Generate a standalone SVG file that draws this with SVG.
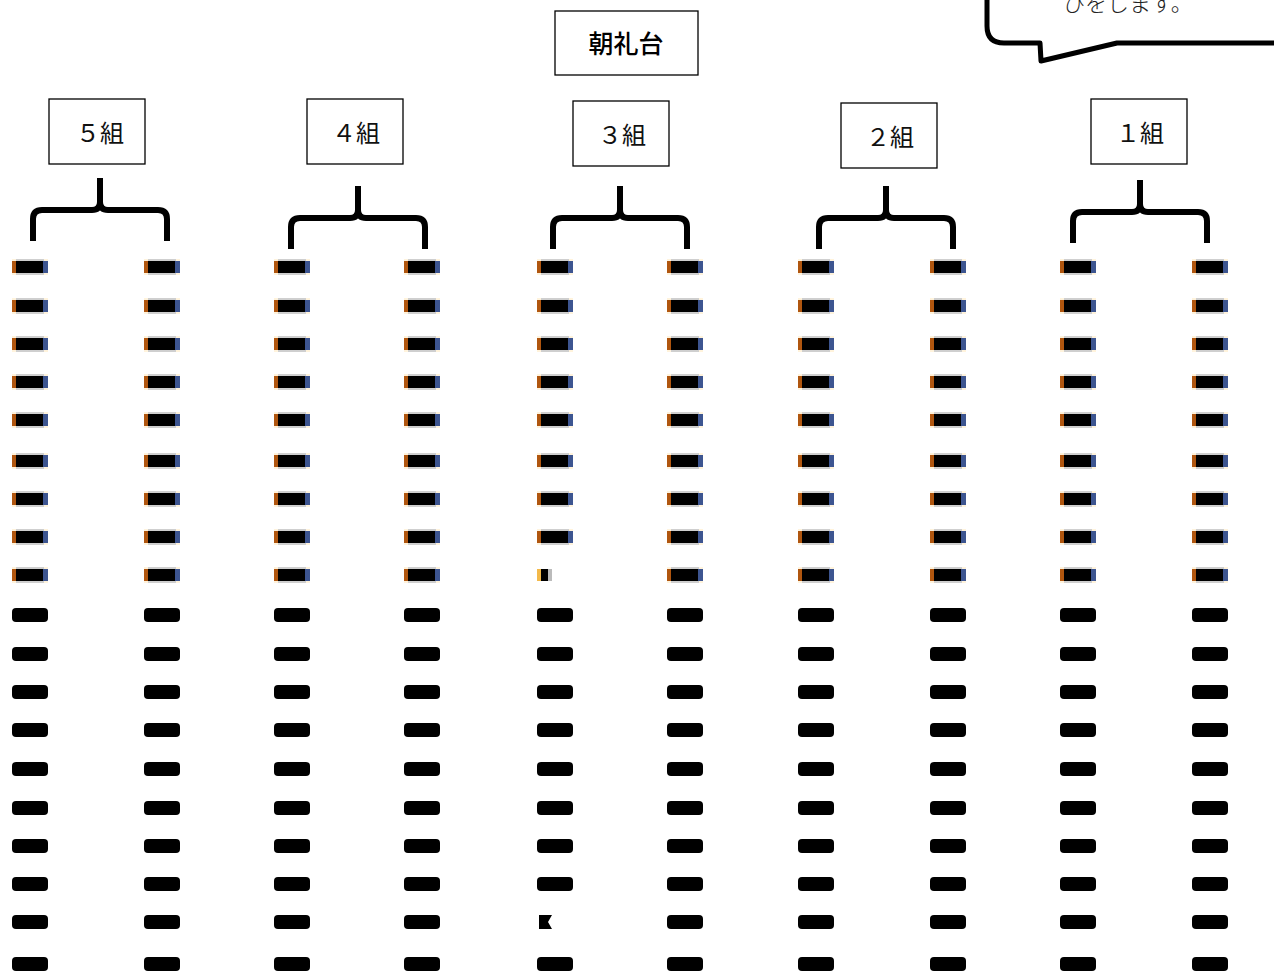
<svg xmlns="http://www.w3.org/2000/svg" xmlns:xlink="http://www.w3.org/1999/xlink" width="1274" height="978" viewBox="0 0 1274 978">
<style>
.box{fill:#fff;stroke:#000;stroke-width:1.3}
.brace{fill:none;stroke:#000;stroke-width:6;stroke-linejoin:round}
.lbl{font-family:"Liberation Serif","Noto Sans CJK JP",serif;font-size:24px;text-anchor:middle;fill:#111}
.stage{font-family:"Noto Sans CJK JP",sans-serif;font-size:25px;font-weight:500;text-anchor:middle;fill:#000}
.bub{fill:#fff;stroke:#000;stroke-width:5;stroke-linejoin:round}
.btxt{font-family:"Noto Sans CJK JP",sans-serif;font-size:22px;font-weight:300;fill:#222}
</style>
<defs>
<path id="br" class="brace" d="M0,0 V24 Q0,32 -8,32 H-58 Q-67,32 -67,41 V63 M0,24 Q0,32 8,32 H58 Q67,32 67,41 V63"/>
<g id="m">
<rect x="0" y="-8" width="36" height="16" fill="#fff3dc"/>
<rect x="0" y="-6" width="4" height="12" fill="#b0560f"/>
<rect x="4" y="-8" width="28" height="16" fill="#cfcfcf"/>
<rect x="4" y="-6" width="28" height="12" fill="#000"/>
<rect x="31" y="-6" width="5" height="12" fill="#3d5590"/>
</g>
<g id="n">
<rect x="0" y="-7" width="36" height="14" rx="4" fill="#000"/>
</g>
</defs>
<rect width="1274" height="978" fill="#fff"/>

<g id="bubble">
<path class="bub" d="M987,-10 V26 Q987,43 1004,43 H1040 L1041,61 L1117,43 H1285 V-10 Z"/>
<text class="btxt" x="1063" y="11">ひをします。</text>
</g>

<g id="stage">
<rect class="box" x="555" y="11" width="143" height="64"/>
<text class="stage" x="626" y="53">朝礼台</text>
</g>

<g id="class5">
<rect class="box" x="49" y="99" width="96" height="65"/>
<text class="lbl" x="100" y="142">５組</text>
<use xlink:href="#br" x="100" y="178"/>
</g>
<g id="class4">
<rect class="box" x="307" y="99" width="96" height="65"/>
<text class="lbl" x="356" y="142">４組</text>
<use xlink:href="#br" x="358" y="186"/>
</g>
<g id="class3">
<rect class="box" x="573" y="101" width="96" height="65"/>
<text class="lbl" x="622" y="144">３組</text>
<use xlink:href="#br" x="620" y="186"/>
</g>
<g id="class2">
<rect class="box" x="841" y="103" width="96" height="65"/>
<text class="lbl" x="890" y="146">２組</text>
<use xlink:href="#br" x="886" y="186"/>
</g>
<g id="class1">
<rect class="box" x="1091" y="99" width="96" height="65"/>
<text class="lbl" x="1140" y="142">１組</text>
<use xlink:href="#br" x="1140" y="180"/>
</g>

<g id="students">
<g id="col5L" transform="translate(12,0)">
<use href="#m" y="267"/><use href="#m" y="306"/><use href="#m" y="344"/><use href="#m" y="382"/><use href="#m" y="420"/><use href="#m" y="461"/><use href="#m" y="499"/><use href="#m" y="537"/><use href="#m" y="575"/>
<use href="#n" y="615"/><use href="#n" y="654"/><use href="#n" y="692"/><use href="#n" y="730"/><use href="#n" y="769"/><use href="#n" y="808"/><use href="#n" y="846"/><use href="#n" y="884"/><use href="#n" y="922"/><use href="#n" y="964"/>
</g>
<g id="col5R" transform="translate(144,0)">
<use href="#m" y="267"/><use href="#m" y="306"/><use href="#m" y="344"/><use href="#m" y="382"/><use href="#m" y="420"/><use href="#m" y="461"/><use href="#m" y="499"/><use href="#m" y="537"/><use href="#m" y="575"/>
<use href="#n" y="615"/><use href="#n" y="654"/><use href="#n" y="692"/><use href="#n" y="730"/><use href="#n" y="769"/><use href="#n" y="808"/><use href="#n" y="846"/><use href="#n" y="884"/><use href="#n" y="922"/><use href="#n" y="964"/>
</g>
<g id="col4L" transform="translate(274,0)">
<use href="#m" y="267"/><use href="#m" y="306"/><use href="#m" y="344"/><use href="#m" y="382"/><use href="#m" y="420"/><use href="#m" y="461"/><use href="#m" y="499"/><use href="#m" y="537"/><use href="#m" y="575"/>
<use href="#n" y="615"/><use href="#n" y="654"/><use href="#n" y="692"/><use href="#n" y="730"/><use href="#n" y="769"/><use href="#n" y="808"/><use href="#n" y="846"/><use href="#n" y="884"/><use href="#n" y="922"/><use href="#n" y="964"/>
</g>
<g id="col4R" transform="translate(404,0)">
<use href="#m" y="267"/><use href="#m" y="306"/><use href="#m" y="344"/><use href="#m" y="382"/><use href="#m" y="420"/><use href="#m" y="461"/><use href="#m" y="499"/><use href="#m" y="537"/><use href="#m" y="575"/>
<use href="#n" y="615"/><use href="#n" y="654"/><use href="#n" y="692"/><use href="#n" y="730"/><use href="#n" y="769"/><use href="#n" y="808"/><use href="#n" y="846"/><use href="#n" y="884"/><use href="#n" y="922"/><use href="#n" y="964"/>
</g>
<g id="col3L" transform="translate(537,0)">
<use href="#m" y="267"/><use href="#m" y="306"/><use href="#m" y="344"/><use href="#m" y="382"/><use href="#m" y="420"/><use href="#m" y="461"/><use href="#m" y="499"/><use href="#m" y="537"/>
<rect x="0" y="569" width="4" height="12" fill="#f3b94a"/><rect x="4" y="569" width="7" height="12" fill="#000"/><rect x="11" y="569" width="4" height="12" fill="#bbb"/>
<use href="#n" y="615"/><use href="#n" y="654"/><use href="#n" y="692"/><use href="#n" y="730"/><use href="#n" y="769"/><use href="#n" y="808"/><use href="#n" y="846"/><use href="#n" y="884"/>
<path d="M2,915 H15 L11,922 L15,929 H2 Z" fill="#000"/>
<use href="#n" y="964"/>
</g>
<g id="col3R" transform="translate(667,0)">
<use href="#m" y="267"/><use href="#m" y="306"/><use href="#m" y="344"/><use href="#m" y="382"/><use href="#m" y="420"/><use href="#m" y="461"/><use href="#m" y="499"/><use href="#m" y="537"/><use href="#m" y="575"/>
<use href="#n" y="615"/><use href="#n" y="654"/><use href="#n" y="692"/><use href="#n" y="730"/><use href="#n" y="769"/><use href="#n" y="808"/><use href="#n" y="846"/><use href="#n" y="884"/><use href="#n" y="922"/><use href="#n" y="964"/>
</g>
<g id="col2L" transform="translate(798,0)">
<use href="#m" y="267"/><use href="#m" y="306"/><use href="#m" y="344"/><use href="#m" y="382"/><use href="#m" y="420"/><use href="#m" y="461"/><use href="#m" y="499"/><use href="#m" y="537"/><use href="#m" y="575"/>
<use href="#n" y="615"/><use href="#n" y="654"/><use href="#n" y="692"/><use href="#n" y="730"/><use href="#n" y="769"/><use href="#n" y="808"/><use href="#n" y="846"/><use href="#n" y="884"/><use href="#n" y="922"/><use href="#n" y="964"/>
</g>
<g id="col2R" transform="translate(930,0)">
<use href="#m" y="267"/><use href="#m" y="306"/><use href="#m" y="344"/><use href="#m" y="382"/><use href="#m" y="420"/><use href="#m" y="461"/><use href="#m" y="499"/><use href="#m" y="537"/><use href="#m" y="575"/>
<use href="#n" y="615"/><use href="#n" y="654"/><use href="#n" y="692"/><use href="#n" y="730"/><use href="#n" y="769"/><use href="#n" y="808"/><use href="#n" y="846"/><use href="#n" y="884"/><use href="#n" y="922"/><use href="#n" y="964"/>
</g>
<g id="col1L" transform="translate(1060,0)">
<use href="#m" y="267"/><use href="#m" y="306"/><use href="#m" y="344"/><use href="#m" y="382"/><use href="#m" y="420"/><use href="#m" y="461"/><use href="#m" y="499"/><use href="#m" y="537"/><use href="#m" y="575"/>
<use href="#n" y="615"/><use href="#n" y="654"/><use href="#n" y="692"/><use href="#n" y="730"/><use href="#n" y="769"/><use href="#n" y="808"/><use href="#n" y="846"/><use href="#n" y="884"/><use href="#n" y="922"/><use href="#n" y="964"/>
</g>
<g id="col1R" transform="translate(1192,0)">
<use href="#m" y="267"/><use href="#m" y="306"/><use href="#m" y="344"/><use href="#m" y="382"/><use href="#m" y="420"/><use href="#m" y="461"/><use href="#m" y="499"/><use href="#m" y="537"/><use href="#m" y="575"/>
<use href="#n" y="615"/><use href="#n" y="654"/><use href="#n" y="692"/><use href="#n" y="730"/><use href="#n" y="769"/><use href="#n" y="808"/><use href="#n" y="846"/><use href="#n" y="884"/><use href="#n" y="922"/><use href="#n" y="964"/>
</g>
</g>
</svg>
